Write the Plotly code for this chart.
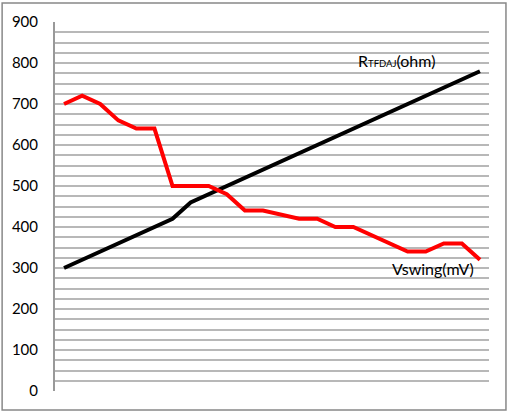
import plotly.graph_objects as go

categories = list(range(1, 25))
r_tfdaj = [300, 320, 340, 360, 380, 400, 420, 460, 480, 500, 520, 540, 560, 580,
           600, 620, 640, 660, 680, 700, 720, 740, 760, 780]
vswing = [700, 720, 700, 660, 640, 640, 500, 500, 500, 480, 440, 440, 430, 420,
          420, 400, 400, 380, 360, 340, 340, 360, 360, 320]
y_ticks = [0, 100, 200, 300, 400, 500, 600, 700, 800, 900]

fig = go.Figure()
fig.add_trace(go.Scatter(x=categories, y=r_tfdaj, mode="lines",
                         line=dict(color="#000000", width=4), name="RTFDAJ(ohm)"))
fig.add_trace(go.Scatter(x=categories, y=vswing, mode="lines",
                         line=dict(color="#ff0000", width=4), name="Vswing(mV)"))

fig.update_layout(
    width=508, height=411,
    margin=dict(l=54, r=19, t=20, b=20),
    paper_bgcolor="white", plot_bgcolor="white",
    showlegend=False,
    font=dict(family="Lato", size=15, color="#000000"),
    xaxis=dict(range=[0.5, 24.5], showgrid=False, zeroline=False,
               showticklabels=False, showline=False, ticks=""),
    yaxis=dict(range=[0, 900], tickvals=y_ticks, showgrid=True,
               gridcolor="#b8b8b8", gridwidth=2, zeroline=False,
               showline=True, linecolor="#999999", linewidth=2,
               ticklabelstandoff=12,
               minor=dict(dtick=25, showgrid=True, gridcolor="#b8b8b8", gridwidth=2)),
    annotations=[
        dict(x=19.4, y=805, xref="x", yref="y", showarrow=False,
             text="R<span style='font-size:9.5px'>TFDAJ</span>(ohm)",
             font=dict(family="Lato", size=16)),
        dict(x=21.4, y=300, xref="x", yref="y", showarrow=False,
             text="Vswing(mV)", font=dict(family="Lato", size=16)),
    ],
    shapes=[dict(type="rect", xref="paper", yref="paper",
                 x0=-53/435, x1=452/435, y0=-19/371, y1=390/371,
                 line=dict(color="#888888", width=1.5), layer="below")],
)

fig.write_html("out.html", config={"displayModeBar": False},
               post_script="document.body.style.margin='0';document.body.style.padding='0';")
